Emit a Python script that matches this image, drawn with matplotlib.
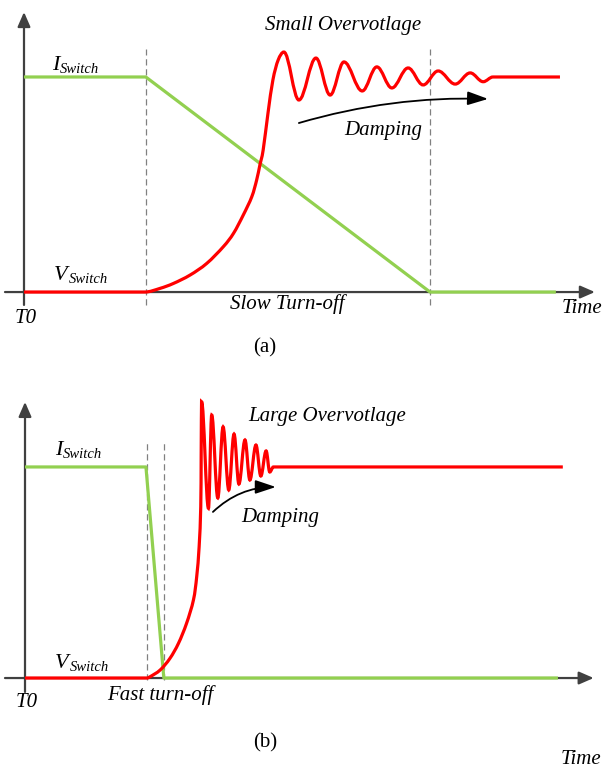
import matplotlib.pyplot as plt
from matplotlib.path import Path
from matplotlib.patches import PathPatch

# Farger og font
GREEN = '#92d050'
RED = '#ff0000'
AXC = '#404040'
DASHC = '#808080'
SERIF = 'Liberation Serif'

# ---- Panel (a): langsom utkobling ----
a_i_t = [0.0, 3.0, 10.0, 13.1]
a_i_v = [1.0, 1.0, 0.0, 0.0]
a_rise_t = [2.98, 3.35, 3.68, 4.09, 4.50, 4.91, 5.16, 5.40, 5.61, 5.73, 5.81, 5.89, 6.01, 6.13, 6.26]
a_rise_v = [0.0, 0.017, 0.040, 0.079, 0.133, 0.211, 0.273, 0.358, 0.443, 0.521, 0.591, 0.660, 0.833, 0.986, 1.079]
# topper og bunner i svingningen
a_osc_t = [6.40, 6.77, 7.19, 7.54, 7.88, 8.33, 8.69, 9.06, 9.46, 9.83, 10.20, 10.62, 10.99, 11.31, 11.55]
a_osc_v = [1.116, 0.893, 1.088, 0.916, 1.070, 0.935, 1.047, 0.949, 1.042, 0.963, 1.028, 0.967, 1.019, 0.978, 1.0]
a_v_end = 13.2
a_dash_t = [3.0, 10.0]

# ---- Panel (b): rask utkobling ----
b_i_t = [0.0, 2.98, 3.42, 13.13]
b_i_v = [1.0, 1.0, 0.0, 0.0]
b_rise_t = [3.0, 3.08, 3.33, 3.57, 3.78, 3.98, 4.15, 4.23, 4.29, 4.33, 4.34]
b_rise_v = [0.0, 0.006, 0.038, 0.093, 0.164, 0.259, 0.370, 0.480, 0.622, 0.812, 1.049]
b_osc_t = [4.35, 4.52, 4.60, 4.75, 4.88, 5.02, 5.15, 5.27, 5.42, 5.54, 5.69, 5.81, 5.94, 6.03, 6.12]
b_osc_v = [1.309, 0.804, 1.246, 0.853, 1.190, 0.891, 1.156, 0.919, 1.128, 0.938, 1.104, 0.957, 1.076, 0.976, 1.0]
b_v_end = 13.25
b_dash_t = [3.0, 3.42]


def v_path(rise_t, rise_v, osc_t, osc_v, t_end):
    # flat start, glatt stigning (Catmull-Rom som Bezier), svingning, flat slutt
    pts = list(zip(rise_t, rise_v)) + [(osc_t[0], osc_v[0])]
    verts = [(0.0, 0.0), pts[0]]
    codes = [Path.MOVETO, Path.LINETO]
    n = len(pts)
    for i in range(n - 1):
        p0 = pts[i]
        p1 = pts[i + 1]
        if i == 0:
            m0 = (p1[0] - p0[0], 0.0)
        else:
            m0 = ((p1[0] - pts[i - 1][0]) / 2, (p1[1] - pts[i - 1][1]) / 2)
        if i == n - 2:
            m1 = (p1[0] - p0[0], 0.0)
        else:
            m1 = ((pts[i + 2][0] - p0[0]) / 2, (pts[i + 2][1] - p0[1]) / 2)
        verts += [(p0[0] + m0[0] / 3, p0[1] + m0[1] / 3),
                  (p1[0] - m1[0] / 3, p1[1] - m1[1] / 3), p1]
        codes += [Path.CURVE4] * 3
    k = 0.364  # gir tilnaermet cosinus-form mellom topp og bunn
    for i in range(len(osc_t) - 1):
        t0, v0, t1, v1 = osc_t[i], osc_v[i], osc_t[i + 1], osc_v[i + 1]
        dt = t1 - t0
        verts += [(t0 + k * dt, v0), (t1 - k * dt, v1), (t1, v1)]
        codes += [Path.CURVE4] * 3
    verts.append((t_end, osc_v[-1]))
    codes.append(Path.LINETO)
    return Path(verts, codes)


def axis_arrow(ax, start, end):
    ax.annotate('', xy=end, xytext=start,
                arrowprops=dict(arrowstyle='-|>,head_length=0.55,head_width=0.24',
                                color=AXC, lw=1.6, mutation_scale=16,
                                shrinkA=0, shrinkB=0), zorder=1)


def sub_label(ax, t, v, main, sub):
    txt = ax.text(t, v, main, fontsize=16, style='italic', family=SERIF,
                  va='baseline', ha='left')
    ax.annotate(sub, xy=(1, 0), xycoords=txt, xytext=(0.5, 1.5),
                textcoords='offset points', fontsize=10.5, style='italic',
                family=SERIF, va='baseline', ha='left')


def panel(ax, i_t, i_v, rise_t, rise_v, osc_t, osc_v, v_end, dash_t, dash_top,
          dash_bot, x_ax, y_ax, texts, damp_from, damp_to, damp_rad):
    ax.set_axis_off()
    axis_arrow(ax, (x_ax[0], 0), (x_ax[1], 0))
    axis_arrow(ax, (0, y_ax[0]), (0, y_ax[1]))
    for t in dash_t:
        ax.plot([t, t], [dash_bot, dash_top], color=DASHC, lw=0.9,
                dashes=(5, 3), zorder=1.5)
    ax.plot(i_t, i_v, color=GREEN, lw=2.3, zorder=2, solid_capstyle='butt')
    ax.add_patch(PathPatch(v_path(rise_t, rise_v, osc_t, osc_v, v_end),
                           fill=False, edgecolor=RED, lw=2.3, zorder=3,
                           capstyle='butt'))
    for (t, v, s, style, ha) in texts:
        ax.text(t, v, s, fontsize=15, style=style, family=SERIF, ha=ha,
                va='baseline')
    ax.annotate('', xy=damp_to, xytext=damp_from,
                arrowprops=dict(arrowstyle='-|>,head_length=0.78,head_width=0.26',
                                color='black', lw=1.3, mutation_scale=16,
                                shrinkA=0, shrinkB=0,
                                connectionstyle='arc3,rad=%s' % damp_rad),
                zorder=4)


fig = plt.figure(figsize=(6.03, 7.69), dpi=100)

ax_a = fig.add_axes([0, 1 - 380 / 769, 1, 380 / 769])
ax_a.set_xlim(-0.591, 14.26)
ax_a.set_ylim(-0.409, 1.358)
panel(ax_a, a_i_t, a_i_v, a_rise_t, a_rise_v, a_osc_t, a_osc_v, a_v_end,
      a_dash_t, 1.13, -0.06, (-0.468, 14.06), (-0.06, 1.302),
      [(7.86, 1.219, 'Small Overvotlage', 'italic', 'center'),
       (8.84, 0.730, 'Damping', 'italic', 'center'),
       (6.48, -0.079, 'Slow Turn-off', 'italic', 'center'),
       (0.05, -0.144, 'T0', 'italic', 'center'),
       (13.74, -0.098, 'Time', 'italic', 'center'),
       (5.94, -0.279, '(a)', 'normal', 'center')],
      (6.77, 0.786), (11.43, 0.898), -0.08)
sub_label(ax_a, 0.69, 1.033, 'I', 'Switch')
sub_label(ax_a, 0.74, 0.056, 'V', 'Switch')

ax_b = fig.add_axes([0, 0, 1, 389 / 769])
ax_b.set_xlim(-0.616, 14.24)
ax_b.set_ylim(-0.431, 1.412)
panel(ax_b, b_i_t, b_i_v, b_rise_t, b_rise_v, b_osc_t, b_osc_v, b_v_end,
      b_dash_t, 1.128, -0.01, (-0.493, 14.01), (-0.066, 1.308),
      [(7.44, 1.218, 'Large Overvotlage', 'italic', 'center'),
       (6.28, 0.739, 'Damping', 'italic', 'center'),
       (3.33, -0.104, 'Fast turn-off', 'italic', 'center'),
       (0.03, -0.137, 'T0', 'italic', 'center'),
       (13.70, -0.405, 'Time', 'italic', 'center'),
       (5.91, -0.327, '(b)', 'normal', 'center')],
      (4.63, 0.787), (6.18, 0.905), -0.2)
sub_label(ax_b, 0.74, 1.057, 'I', 'Switch')
sub_label(ax_b, 0.74, 0.047, 'V', 'Switch')

fig.savefig('out.png', dpi=100)
